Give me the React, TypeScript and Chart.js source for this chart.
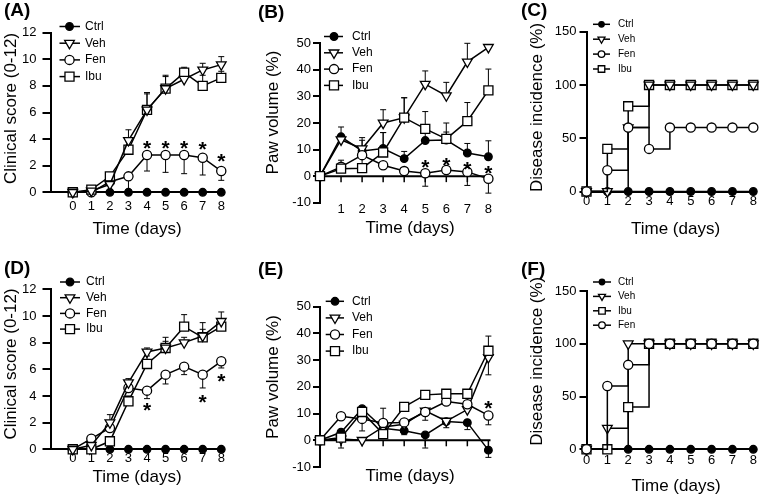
import React, { useEffect, useRef } from 'react';
import { Chart, registerables } from 'chart.js';
Chart.register(...registerables);

const FONT = '"Liberation Sans", Arial, Helvetica, sans-serif';

const days = [0, 1, 2, 3, 4, 5, 6, 7, 8];
const daysNoZero = [1, 2, 3, 4, 5, 6, 7, 8];
const clinicalTicksStep = 2;
const pawTicksStep = 10;
const incidenceTicksStep = 50;

// ---------- (A) clinical score, experiment 1 ----------
const aCtrl = [0, 0, 0, 0, 0, 0, 0, 0, 0];
const aVeh = [0, 0.1, 0.6, 3.9, 6.2, 7.8, 8.5, 9.2, 9.6];
const aFen = [0, 0, 0.8, 1.2, 2.8, 2.8, 2.8, 2.6, 1.6];
const aIbu = [0, 0.2, 1.2, 3.2, 6.2, 7.8, 9.0, 8.0, 8.6];
const aVehErr = [0, 0, 0, 0.8, 1.2, 1.0, 0.8, 0.5, 0.6];
const aFenErr = [0, 0, 0, -1.0, -1.2, -1.3, -1.4, -1.3, -0.7];
const aIbuErr = [0, 0, 0, 0.6, 1.3, 0.9, 0.4, 0.8, 0.5];
const aStarX = [4, 5, 6, 7, 8];
const aStarY = [3.7, 3.7, 3.7, 3.6, 2.7];

// ---------- (B) paw volume, experiment 1 ----------
const bCtrl = [0, 14.8, 9.5, 10.4, 6.6, 13.4, 13.6, 8.7, 7.3];
const bVeh = [0, 13.7, 10.3, 20.0, 22.0, 34.6, 30.3, 43.0, 48.5];
const bFen = [0, 3.5, 7.9, 4.1, 1.9, 1.1, 2.3, 1.6, -1.0];
const bIbu = [0, 2.8, 3.0, 8.9, 22.0, 17.8, 14.0, 20.7, 32.3];
const bCtrlErr = [0, 3.7, 4.0, 6.0, 2.7, 3.0, 3.0, 3.6, 6.0];
const bVehErr = [0, 1.5, 4.2, 5.0, 7.5, 5.0, 5.0, 7.0, 1.0];
const bFenErr = [0, 0, 0, 0, 0, -4.9, 0, -5.1, -5.4];
const bIbuErr = [0, 3.2, 4.5, 7.5, 7.5, 6.5, 6.0, 7.0, 8.0];
const bStarX = [5, 6, 7, 8];
const bStarY = [5.4, 6.0, 4.5, 2.9];

// ---------- (C) disease incidence, experiment 1 ----------
const cCtrl = [0, 0, 0, 0, 0, 0, 0, 0, 0];
const cVeh = [0, 0, 60, 100, 100, 100, 100, 100, 100];
const cFen = [0, 20, 60, 40, 60, 60, 60, 60, 60];
const cIbu = [0, 40, 80, 100, 100, 100, 100, 100, 100];

// ---------- (D) clinical score, experiment 2 ----------
const dCtrl = [0, 0, 0, 0, 0, 0, 0, 0, 0];
const dVeh = [0, 0.3, 2.0, 5.0, 7.3, 7.6, 8.0, 8.5, 9.6];
const dFen = [0, 0.8, 1.6, 4.6, 4.4, 5.6, 6.2, 5.6, 6.6];
const dIbu = [0, 0, 0.6, 3.6, 6.4, 7.6, 9.2, 8.4, 9.2];
const dVehErr = [0, 0, 0.6, 0.3, 0.3, 0.5, 0.4, 0.5, 0.7];
const dFenErr = [0, 0, 0, 0, -0.6, -0.7, -0.6, -1.0, -0.5];
const dIbuErr = [0, 0, 0, 0.4, 0.6, 0.8, 0.9, 1.1, 0.4];
const dStarX = [4, 7, 8];
const dStarY = [3.35, 3.9, 5.5];

// ---------- (E) paw volume, experiment 2 ----------
const eCtrl = [0, 3.0, 11.8, 4.5, 3.6, 2.0, 7.0, 6.6, -3.7];
const eVeh = [0, 0.5, 0, 5.0, 6.0, 11.0, 7.2, 11.5, 31.0];
const eFen = [0, 9.0, 8.0, 6.5, 6.7, 10.6, 14.5, 13.5, 9.3];
const eIbu = [0, 1.0, 10.6, 2.3, 12.5, 17.0, 17.4, 17.4, 33.5];
const eCtrlErr = [0, -5.9, 0, 0, -1.5, -4.9, 0, -2.6, -2.7];
const eVehErr = [0, 0, 0, 0, 0, -3.5, -2.5, 0, -6.5];
const eFenErr = [0, 0, -4.5, 0, 0, 0, 0, 0, -3.5];
const eIbuErr = [0, 0, 0, 9.7, 0, 0, 0, 1.5, 5.5];
const eStarX = [8];
const eStarY = [14];

// ---------- (F) disease incidence, experiment 2 ----------
const fCtrl = [0, 0, 0, 0, 0, 0, 0, 0, 0];
const fVeh = [0, 20, 100, 100, 100, 100, 100, 100, 100];
const fIbu = [0, 0, 40, 100, 100, 100, 100, 100, 100];
const fFen = [0, 60, 80, 100, 100, 100, 100, 100, 100];

// ---------- styles ----------
type StyleKey = 'ctrl' | 'veh' | 'fen' | 'ibu';
const STYLES: Record<StyleKey, { shape: string; r: number; fill: string; rot: number }> = {
  ctrl: { shape: 'circle', r: 3.8, fill: '#000', rot: 0 },
  veh: { shape: 'triangle', r: 5.6, fill: '#fff', rot: 180 },
  fen: { shape: 'circle', r: 4.6, fill: '#fff', rot: 0 },
  ibu: { shape: 'rect', r: 6.4, fill: '#fff', rot: 0 },
};

type Series = { label: string; style: StyleKey; data: number[]; err?: number[]; order: number };

type PanelCfg = {
  letter: string;
  letterPos: [number, number];
  box: [number, number, number, number];
  area: [number, number, number, number];
  xMin: number; xMax: number; xTicks: number[]; xLabelPad: number;
  yMin: number; yMax: number; yStep: number; yTickLen: number; yPad: number;
  yTitle: string; yTitlePos: [number, number];
  xTitle: string; xTitlePos: [number, number];
  zeroLine: boolean; stepped: boolean;
  series: Series[];
  starX?: number[]; starY?: number[];
  legend: { x1: number; x2: number; mx: number; tx: number; y0: number; dy: number; size: number; scale: number };
};

const PANELS: PanelCfg[] = [
  {
    letter: '(A)', letterPos: [4, 11], box: [0, 0, 254, 248], area: [50.5, 32.7, 223.3, 192.3],
    xMin: -1.2, xMax: 8.11, xTicks: days, xLabelPad: 6.6,
    yMin: 0, yMax: 12, yStep: clinicalTicksStep, yTickLen: 8, yPad: 6,
    yTitle: 'Clinical score (0-12)', yTitlePos: [11, 108.5], xTitle: 'Time (days)', xTitlePos: [137, 229.5],
    zeroLine: false, stepped: false,
    series: [
      { label: 'Ctrl', style: 'ctrl', data: aCtrl, order: 3 },
      { label: 'Veh', style: 'veh', data: aVeh, err: aVehErr, order: 0 },
      { label: 'Fen', style: 'fen', data: aFen, err: aFenErr, order: 2 },
      { label: 'Ibu', style: 'ibu', data: aIbu, err: aIbuErr, order: 1 },
    ],
    starX: aStarX, starY: aStarY,
    legend: { x1: 59.5, x2: 80, mx: 69.5, tx: 85, y0: 26.5, dy: 16.7, size: 12, scale: 1 },
  },
  {
    letter: '(B)', letterPos: [258, 12.5], box: [254, 0, 254, 248], area: [320, 43.3, 490.5, 202.7],
    xMin: 0, xMax: 8.1, xTicks: daysNoZero, xLabelPad: -1,
    yMin: -10, yMax: 50, yStep: pawTicksStep, yTickLen: 7, yPad: 2,
    yTitle: 'Paw volume (%)', yTitlePos: [273.5, 112.5], xTitle: 'Time (days)', xTitlePos: [410, 228.5],
    zeroLine: true, stepped: false,
    series: [
      { label: 'Ctrl', style: 'ctrl', data: bCtrl, err: bCtrlErr, order: 3 },
      { label: 'Veh', style: 'veh', data: bVeh, err: bVehErr, order: 2 },
      { label: 'Fen', style: 'fen', data: bFen, err: bFenErr, order: 1 },
      { label: 'Ibu', style: 'ibu', data: bIbu, err: bIbuErr, order: 0 },
    ],
    starX: bStarX, starY: bStarY,
    legend: { x1: 324, x2: 343, mx: 334, tx: 352, y0: 36.5, dy: 16.3, size: 12, scale: 1 },
  },
  {
    letter: '(C)', letterPos: [521, 10.5], box: [508, 0, 253, 248], area: [586.5, 31.7, 754.5, 191.5],
    xMin: 0, xMax: 8, xTicks: days, xLabelPad: 2,
    yMin: 0, yMax: 150, yStep: incidenceTicksStep, yTickLen: 7, yPad: 3,
    yTitle: 'Disease incidence (%)', yTitlePos: [537, 107.5], xTitle: 'Time (days)', xTitlePos: [675.5, 229.5],
    zeroLine: false, stepped: true,
    series: [
      { label: 'Ctrl', style: 'ctrl', data: cCtrl, order: 3 },
      { label: 'Veh', style: 'veh', data: cVeh, order: 1 },
      { label: 'Fen', style: 'fen', data: cFen, order: 0 },
      { label: 'Ibu', style: 'ibu', data: cIbu, order: 2 },
    ],
    legend: { x1: 593, x2: 610, mx: 601.5, tx: 618, y0: 24.3, dy: 14.9, size: 10, scale: 0.72 },
  },
  {
    letter: '(D)', letterPos: [4, 269], box: [0, 248, 254, 249], area: [50.5, 289.3, 223.3, 449.3],
    xMin: -1.2, xMax: 8.11, xTicks: days, xLabelPad: 1.4,
    yMin: 0, yMax: 12, yStep: clinicalTicksStep, yTickLen: 8, yPad: 6,
    yTitle: 'Clinical score (0-12)', yTitlePos: [11, 364], xTitle: 'Time (days)', xTitlePos: [137, 477.5],
    zeroLine: false, stepped: false,
    series: [
      { label: 'Ctrl', style: 'ctrl', data: dCtrl, order: 3 },
      { label: 'Veh', style: 'veh', data: dVeh, err: dVehErr, order: 0 },
      { label: 'Fen', style: 'fen', data: dFen, err: dFenErr, order: 2 },
      { label: 'Ibu', style: 'ibu', data: dIbu, err: dIbuErr, order: 1 },
    ],
    starX: dStarX, starY: dStarY,
    legend: { x1: 60, x2: 80, mx: 70, tx: 86, y0: 282, dy: 15.7, size: 12, scale: 1 },
  },
  {
    letter: '(E)', letterPos: [258, 270], box: [254, 248, 254, 249], area: [320, 306.7, 490.5, 467],
    xMin: 0, xMax: 8.1, xTicks: daysNoZero, xLabelPad: -15.8,
    yMin: -10, yMax: 50, yStep: pawTicksStep, yTickLen: 7, yPad: 2,
    yTitle: 'Paw volume (%)', yTitlePos: [273.5, 377], xTitle: 'Time (days)', xTitlePos: [410, 476.5],
    zeroLine: true, stepped: false,
    series: [
      { label: 'Ctrl', style: 'ctrl', data: eCtrl, err: eCtrlErr, order: 3 },
      { label: 'Veh', style: 'veh', data: eVeh, err: eVehErr, order: 2 },
      { label: 'Fen', style: 'fen', data: eFen, err: eFenErr, order: 1 },
      { label: 'Ibu', style: 'ibu', data: eIbu, err: eIbuErr, order: 0 },
    ],
    starX: eStarX, starY: eStarY,
    legend: { x1: 325.7, x2: 344, mx: 335, tx: 352, y0: 301.3, dy: 16.6, size: 12, scale: 1 },
  },
  {
    letter: '(F)', letterPos: [521, 269.5], box: [508, 248, 253, 249], area: [586.5, 291, 755, 449.3],
    xMin: 0, xMax: 8, xTicks: days, xLabelPad: 3.4,
    yMin: 0, yMax: 150, yStep: incidenceTicksStep, yTickLen: 7, yPad: 3,
    yTitle: 'Disease incidence (%)', yTitlePos: [537, 361.3], xTitle: 'Time (days)', xTitlePos: [676, 486],
    zeroLine: false, stepped: true,
    series: [
      { label: 'Ctrl', style: 'ctrl', data: fCtrl, order: 3 },
      { label: 'Veh', style: 'veh', data: fVeh, order: 2 },
      { label: 'Ibu', style: 'ibu', data: fIbu, order: 1 },
      { label: 'Fen', style: 'fen', data: fFen, order: 0 },
    ],
    legend: { x1: 593, x2: 611, mx: 602, tx: 618, y0: 282, dy: 14.4, size: 10, scale: 0.72 },
  },
];

function drawMarker(ctx: CanvasRenderingContext2D, key: StyleKey, x: number, y: number, scale: number) {
  const st = STYLES[key];
  const r = st.r * scale;
  ctx.beginPath();
  if (st.shape === 'circle') {
    ctx.arc(x, y, r, 0, Math.PI * 2);
  } else if (st.shape === 'rect') {
    const s = r * Math.SQRT1_2;
    ctx.rect(x - s, y - s, 2 * s, 2 * s);
  } else {
    const h = r * Math.sin(Math.PI / 3);
    ctx.moveTo(x, y + r);
    ctx.lineTo(x - h, y - r / 2);
    ctx.lineTo(x + h, y - r / 2);
    ctx.closePath();
  }
  ctx.fillStyle = st.fill;
  ctx.fill();
  ctx.lineWidth = 1.3;
  ctx.strokeStyle = '#000';
  ctx.stroke();
}

const STAR_SIZE = 21;

function makePlugin(p: PanelCfg) {
  const ox = p.box[0];
  const oy = p.box[1];
  return {
    id: 'panelDeco' + p.letter,
    beforeDatasetsDraw(chart: any) {
      const ctx: CanvasRenderingContext2D = chart.ctx;
      const xs = chart.scales.x;
      const ys = chart.scales.y;
      ctx.save();
      ctx.strokeStyle = '#000';
      if (p.zeroLine) {
        const y0 = ys.getPixelForValue(0);
        ctx.lineWidth = 2;
        ctx.beginPath();
        ctx.moveTo(chart.chartArea.left, y0);
        ctx.lineTo(chart.chartArea.right, y0);
        ctx.stroke();
        ctx.lineWidth = 1.5;
        for (const d of p.xTicks) {
          const x = xs.getPixelForValue(d);
          ctx.beginPath();
          ctx.moveTo(x, y0);
          ctx.lineTo(x, y0 + 6);
          ctx.stroke();
        }
      }
      ctx.lineWidth = 1;
      for (const s of p.series) {
        if (!s.err) continue;
        s.err.forEach((e, i) => {
          if (!e) return;
          const x = xs.getPixelForValue(days[i]);
          const y0 = ys.getPixelForValue(s.data[i]);
          const y1 = ys.getPixelForValue(s.data[i] + e);
          ctx.beginPath();
          ctx.moveTo(x, y0);
          ctx.lineTo(x, y1);
          ctx.moveTo(x - 3, y1);
          ctx.lineTo(x + 3, y1);
          ctx.stroke();
        });
      }
      ctx.restore();
    },
    afterDatasetsDraw(chart: any) {
      if (!p.starX || !p.starY) return;
      const ctx: CanvasRenderingContext2D = chart.ctx;
      const xs = chart.scales.x;
      const ys = chart.scales.y;
      ctx.save();
      ctx.fillStyle = '#000';
      ctx.font = `bold ${STAR_SIZE}px ${FONT}`;
      ctx.textAlign = 'center';
      ctx.textBaseline = 'alphabetic';
      p.starX.forEach((sx, i) => {
        const x = xs.getPixelForValue(sx);
        const y = ys.getPixelForValue(p.starY![i]);
        ctx.fillText('*', x, y + STAR_SIZE * 0.57);
      });
      ctx.restore();
    },
    afterDraw(chart: any) {
      const ctx: CanvasRenderingContext2D = chart.ctx;
      ctx.save();
      ctx.fillStyle = '#000';
      ctx.font = `bold 19px ${FONT}`;
      ctx.textAlign = 'left';
      ctx.textBaseline = 'middle';
      ctx.fillText(p.letter, p.letterPos[0] - ox, p.letterPos[1] - oy);
      ctx.font = `17px ${FONT}`;
      ctx.textAlign = 'center';
      ctx.fillText(p.xTitle, p.xTitlePos[0] - ox, p.xTitlePos[1] - oy);
      ctx.save();
      ctx.translate(p.yTitlePos[0] - ox, p.yTitlePos[1] - oy);
      ctx.rotate(-Math.PI / 2);
      ctx.fillText(p.yTitle, 0, 0);
      ctx.restore();
      const lg = p.legend;
      p.series.forEach((s, i) => {
        const y = lg.y0 + i * lg.dy - oy;
        ctx.strokeStyle = '#000';
        ctx.lineWidth = 1.5;
        ctx.beginPath();
        ctx.moveTo(lg.x1 - ox, y);
        ctx.lineTo(lg.x2 - ox, y);
        ctx.stroke();
        drawMarker(ctx, s.style, lg.mx - ox, y, lg.scale);
        ctx.fillStyle = '#000';
        ctx.font = `${lg.size}px ${FONT}`;
        ctx.textAlign = 'left';
        ctx.textBaseline = 'middle';
        ctx.fillText(s.label, lg.tx - ox, y);
      });
      ctx.restore();
    },
  };
}

function makeChart(canvas: HTMLCanvasElement, p: PanelCfg) {
  const [bl, bt, bw, bh] = p.box;
  const [al, at, ar, ab] = p.area;
  const L = al - bl;
  const T = at - bt;
  const R = bw - (ar - bl);
  const B = bh - (ab - bt);
  const datasets = p.series.map((s) => {
    const st = STYLES[s.style];
    return {
      label: s.label,
      data: s.data.map((v, i) => ({ x: days[i], y: v })),
      borderColor: '#000',
      borderWidth: 1.5,
      pointStyle: st.shape,
      pointRadius: st.r,
      pointHoverRadius: st.r,
      pointBackgroundColor: st.fill,
      pointBorderColor: '#000',
      pointBorderWidth: 1.3,
      pointRotation: st.rot,
      stepped: p.stepped,
      tension: 0,
      fill: false,
      clip: false as any,
      order: s.order,
    };
  });
  const tickFont = { family: FONT, size: 13 };
  return new Chart(canvas, {
    type: 'line',
    data: { datasets } as any,
    plugins: [makePlugin(p)],
    options: {
      responsive: false,
      maintainAspectRatio: false,
      animation: false,
      devicePixelRatio: 1,
      events: [],
      layout: { padding: { left: 0, top: T, right: R, bottom: 0 } },
      plugins: { legend: { display: false }, tooltip: { enabled: false }, title: { display: false } },
      scales: {
        x: {
          type: 'linear',
          position: 'bottom',
          min: p.xMin,
          max: p.xMax,
          afterBuildTicks: (s: any) => { s.ticks = p.xTicks.map((v) => ({ value: v })); },
          afterFit: (s: any) => { s.height = B; s.paddingLeft = 0; s.paddingRight = 0; s.paddingTop = 0; s.paddingBottom = 0; },
          grid: { display: false, drawTicks: false },
          border: { display: !p.zeroLine, width: 2, color: '#000' },
          ticks: { padding: p.xLabelPad, font: tickFont, color: '#000', maxRotation: 0, autoSkip: false },
        },
        y: {
          type: 'linear',
          min: p.yMin,
          max: p.yMax,
          afterFit: (s: any) => { s.width = L; s.paddingLeft = 0; s.paddingRight = 0; s.paddingTop = 0; s.paddingBottom = 0; },
          grid: { display: true, drawOnChartArea: false, drawTicks: true, tickLength: p.yTickLen, tickWidth: 2, tickColor: '#000', color: '#000', lineWidth: 2 },
          border: { display: true, width: 2, color: '#000' },
          ticks: { stepSize: p.yStep, padding: p.yPad, font: tickFont, color: '#000' },
        },
      },
    } as any,
  });
}

function Panel({ p }: { p: PanelCfg }) {
  const ref = useRef<HTMLCanvasElement>(null);
  useEffect(() => {
    const chart = makeChart(ref.current!, p);
    return () => chart.destroy();
  }, []);
  const [l, t, w, h] = p.box;
  return (
    <canvas
      ref={ref}
      width={w}
      height={h}
      style={{ position: 'absolute', left: l, top: t, width: w, height: h }}
    />
  );
}

export default function App() {
  return (
    <div style={{ position: 'absolute', left: 0, top: 0, width: 761, height: 497, background: '#fff' }}>
      {PANELS.map((p) => (
        <Panel key={p.letter} p={p} />
      ))}
    </div>
  );
}
